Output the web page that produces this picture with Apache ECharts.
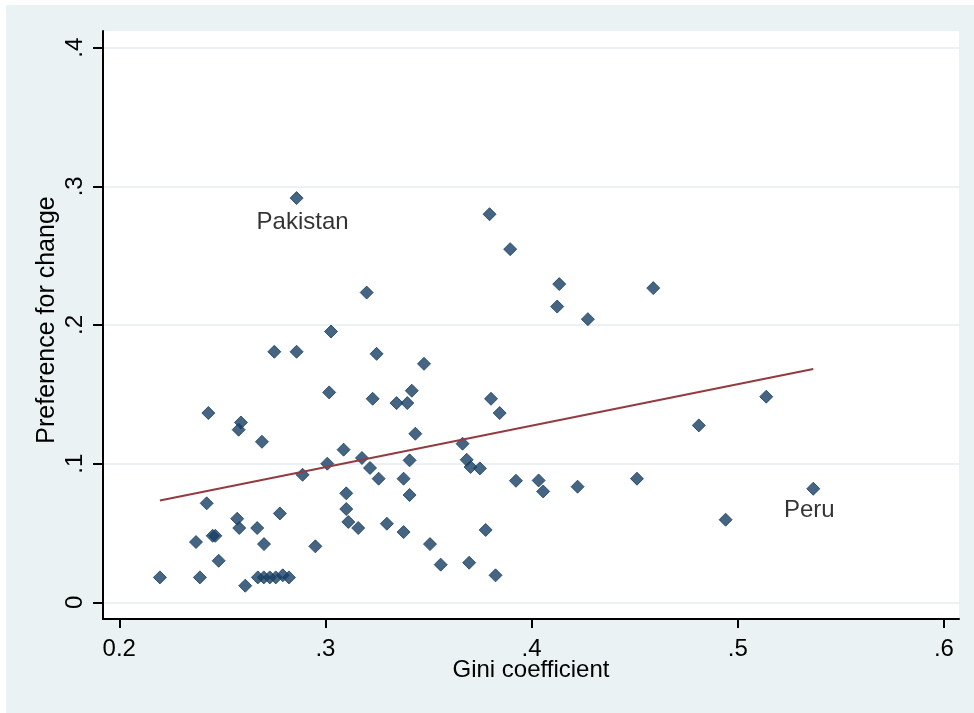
<!DOCTYPE html>
<html><head><meta charset="utf-8">
<script src="https://cdn.jsdelivr.net/npm/echarts@6/dist/echarts.min.js"></script>
<style>
html,body{margin:0;padding:0;background:#fff}
#c{width:974px;height:713px;background:linear-gradient(#eaf2f3,#eaf2f3) 6px 5px / 968px 708px no-repeat, #fff;}
</style>
</head><body><div id="c"></div>
<script>
// Scatter data (countries without labels)
const gini = [
  0.3200,0.3027,0.2752,0.2860,0.3248,0.3796,0.3896,0.4134,0.4124,0.4273,
  0.4590,0.3478,0.3018,0.3229,0.3345,0.3397,0.3419,0.3436,0.3803,0.3845,
  0.2432,0.2590,0.2579,0.2692,0.3088,0.3177,0.3009,0.3216,0.3258,0.2889,
  0.3408,0.3379,0.3408,0.3665,0.3685,0.3704,0.3749,0.3924,0.4034,0.4056,
  0.3101,0.3101,0.3111,0.3159,0.3298,0.3379,0.3777,0.2951,0.3507,0.3559,
  0.3697,0.3825,0.4223,0.4511,0.4811,0.5138,0.4941,0.2424,0.2779,0.2572,
  0.2582,0.2669,0.2453,0.2466,0.2372,0.2702,0.2482,0.2197,0.2391,0.2611,
  0.2672,0.2701,0.2730,0.2759,0.2793,0.2823
];
const pref = [
  0.2234,0.1953,0.1807,0.1807,0.1792,0.2799,0.2547,0.2295,0.2133,0.2042,
  0.2266,0.1720,0.1514,0.1468,0.1437,0.1437,0.1526,0.1216,0.1468,0.1365,
  0.1365,0.1297,0.1245,0.1158,0.1101,0.1041,0.1000,0.0969,0.0892,0.0920,
  0.1024,0.0892,0.0774,0.1144,0.1028,0.0976,0.0966,0.0877,0.0879,0.0800,
  0.0786,0.0673,0.0580,0.0536,0.0567,0.0507,0.0522,0.0404,0.0420,0.0272,
  0.0286,0.0195,0.0834,0.0892,0.1276,0.1483,0.0596,0.0714,0.0641,0.0603,
  0.0536,0.0536,0.0480,0.0480,0.0435,0.0420,0.0300,0.0180,0.0180,0.0120,
  0.0180,0.0180,0.0180,0.0180,0.0195,0.0180
];
// Labelled countries
const labelNames = ['Pakistan','Peru'];
const labelGini  = [0.2860, 0.5366];
const labelPref  = [0.2915, 0.0819];
// Linear fit line endpoints
const fitX = [0.2197, 0.5366];
const fitY = [0.0735, 0.1682];
// Ticks
const xTicks = [0.2,0.3,0.4,0.5,0.6];
const xTickLabels = ['0.2','.3','.4','.5','.6'];
const yTicks = [0,0.1,0.2,0.3,0.4];
const yTickLabels = ['0','.1','.2','.3','.4'];

const FONT = 'Liberation Sans, Arial, sans-serif';
const labelOffsets = {Pakistan:[6,24], Peru:[-4,22]};
function fmt(ticks, labels){
  return function(v){
    for (let i=0;i<ticks.length;i++) if (Math.abs(ticks[i]-v)<1e-6) return labels[i];
    return '';
  };
}
const markerStyle = {color:'#173f64',borderColor:'#173f64',borderWidth:1};
const chart = echarts.init(document.getElementById('c'), null, {renderer:'canvas'});
chart.setOption({
  animation:false,
  textStyle:{fontFamily:FONT},
  grid:{left:103,right:15,top:31,bottom:94,show:true,backgroundColor:'#fff',borderWidth:0},
  xAxis:{
    type:'value',min:0.1921,max:0.6073,
    axisLine:{show:true,onZero:false,lineStyle:{color:'#000',width:2}},
    axisTick:{show:true,customValues:xTicks,length:9,lineStyle:{color:'#000',width:2}},
    axisLabel:{customValues:xTicks,formatter:fmt(xTicks,xTickLabels),fontSize:24,color:'#000',fontFamily:FONT,margin:18},
    splitLine:{show:false},
    name:'Gini coefficient',nameLocation:'middle',nameGap:39,nameMoveOverlap:false,
    nameTextStyle:{fontSize:24,color:'#000',fontFamily:FONT}
  },
  yAxis:{
    type:'value',min:-0.012,max:0.412,
    axisLine:{show:true,onZero:false,lineStyle:{color:'#000',width:2}},
    axisTick:{show:true,customValues:yTicks,length:10,lineStyle:{color:'#000',width:2}},
    axisLabel:{customValues:yTicks,formatter:fmt(yTicks,yTickLabels),rotate:90,fontSize:24,color:'#000',fontFamily:FONT,margin:16},
    splitLine:{show:true,lineStyle:{color:'#e4edf0',width:1.5}},
    name:'Preference for change',nameLocation:'middle',nameGap:43,nameRotate:90,nameMoveOverlap:false,
    nameTextStyle:{fontSize:25,color:'#000',fontFamily:FONT,padding:[0,0,0,10]}
  },
  series:[
    {
      type:'scatter',symbol:'diamond',symbolSize:13,
      itemStyle:markerStyle,
      data:gini.map((g,i)=>[g,pref[i]])
    },
    {
      type:'scatter',symbol:'diamond',symbolSize:13,
      itemStyle:markerStyle,
      data:labelNames.map((n,i)=>({
        name:n,value:[labelGini[i],labelPref[i]],
        label:{show:true,position:'inside',offset:labelOffsets[n],formatter:'{b}',
          fontSize:24,color:'#000',fontFamily:FONT}
      }))
    },
    {
      type:'line',symbol:'none',z:5,
      lineStyle:{color:'#933b41',width:2},
      data:fitX.map((x,i)=>[x,fitY[i]])
    }
  ]
});
</script>
</body></html>
